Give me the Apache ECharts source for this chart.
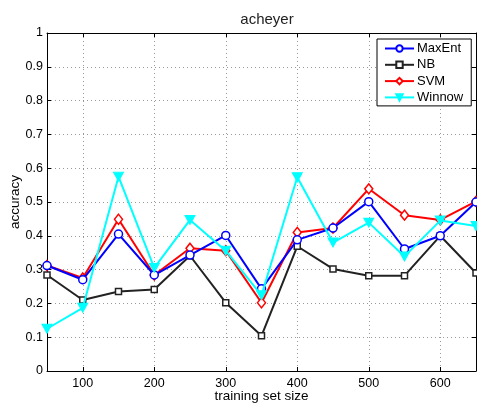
<!DOCTYPE html>
<html>
<head>
<meta charset="utf-8">
<script src="https://cdn.jsdelivr.net/npm/echarts@6/dist/echarts.min.js"></script>
<style>
  html, body { margin: 0; padding: 0; background: #fff; }
  #chart { width: 477px; height: 407px; }
</style>
</head>
<body>
<div id="chart"></div>
<script>
// Training set sizes (x) and accuracy of each classifier
const sizes = [50, 100, 150, 200, 250, 300, 350, 400, 450, 500, 550, 600, 650];
const maxEnt = [0.312, 0.270, 0.405, 0.284, 0.343, 0.401, 0.243, 0.388, 0.423, 0.501, 0.361, 0.400, 0.500];
const nb     = [0.284, 0.210, 0.235, 0.241, 0.341, 0.202, 0.104, 0.369, 0.302, 0.282, 0.282, 0.400, 0.290];
const svm    = [0.312, 0.275, 0.449, 0.284, 0.363, 0.356, 0.202, 0.410, 0.423, 0.539, 0.461, 0.447, 0.502];
const winnow = [0.125, 0.187, 0.575, 0.305, 0.447, 0.356, 0.224, 0.573, 0.380, 0.439, 0.339, 0.445, 0.429];
const xTicks = [100, 200, 300, 400, 500, 600];

const FONT = 'Liberation Sans, Arial, sans-serif';
const pairs = ys => sizes.map((x, i) => [x, ys[i]]);

const chart = echarts.init(document.getElementById('chart'), null, { renderer: 'canvas' });

const dotted = { show: true, lineStyle: { color: '#9a9a9a', type: [1, 3], width: 1 } };
const frameLine = { show: true, onZero: false, lineStyle: { color: '#000', width: 1 } };
const innerTick = { show: true, inside: true, length: 4, lineStyle: { color: '#000' } };

chart.setOption({
  animation: false,
  backgroundColor: '#fff',
  textStyle: { fontFamily: FONT },
  title: {
    text: 'acheyer',
    left: 262, top: 7, textAlign: 'center',
    textStyle: { fontFamily: FONT, fontSize: 15, fontWeight: 'normal', color: '#222' }
  },
  grid: {
    left: 47, right: 1, top: 33, bottom: 36,
    containLabel: false, outerBoundsMode: 'none'
  },
  legend: {
    orient: 'vertical',
    left: 377, top: 39,
    padding: [3, 8, 2, 7],
    itemGap: 3.3,
    itemWidth: 29, itemHeight: 8,
    backgroundColor: '#fff',
    borderColor: '#000', borderWidth: 1, borderRadius: 0,
    textStyle: { fontFamily: FONT, fontSize: 13, color: '#000', padding: [0, 0, 0, -2] },
    data: ['MaxEnt', 'NB', 'SVM', 'Winnow']
  },
  xAxis: [
    {
      type: 'value', min: 50, max: 650, position: 'bottom',
      name: 'training set size', nameLocation: 'middle', nameGap: 18, nameMoveOverlap: false,
      nameTextStyle: { fontFamily: FONT, fontSize: 13.5, color: '#000' },
      axisLine: frameLine,
      axisTick: Object.assign({ customValues: xTicks }, innerTick),
      axisLabel: { customValues: xTicks, fontFamily: FONT, fontSize: 12.5, color: '#000', margin: 6 },
      splitLine: dotted
    },
    {
      type: 'value', min: 50, max: 650, position: 'top',
      axisLine: frameLine,
      axisTick: Object.assign({ customValues: xTicks }, innerTick),
      axisLabel: { show: false, customValues: xTicks },
      splitLine: { show: false }
    }
  ],
  yAxis: [
    {
      type: 'value', min: 0, max: 1, interval: 0.1, position: 'left',
      name: 'accuracy', nameLocation: 'middle', nameGap: 25, nameMoveOverlap: false,
      nameTextStyle: { fontFamily: FONT, fontSize: 13.5, color: '#000' },
      axisLine: frameLine,
      axisTick: innerTick,
      axisLabel: {
        fontFamily: FONT, fontSize: 12.5, color: '#000', margin: 4,
        formatter: v => String(Math.round(v * 10) / 10)
      },
      splitLine: dotted
    },
    {
      type: 'value', min: 0, max: 1, interval: 0.1, position: 'right',
      axisLine: frameLine,
      axisTick: innerTick,
      axisLabel: { show: false },
      splitLine: { show: false }
    }
  ],
  series: [
    {
      name: 'MaxEnt', type: 'line', data: pairs(maxEnt), z: 4,
      symbol: 'circle', symbolSize: 8, showAllSymbol: true,
      lineStyle: { color: '#0000ff', width: 2 },
      itemStyle: { color: '#fff', borderColor: '#0000ff', borderWidth: 1.5 }
    },
    {
      name: 'NB', type: 'line', data: pairs(nb), z: 2,
      symbol: 'rect', symbolSize: 6, showAllSymbol: true,
      lineStyle: { color: '#222222', width: 2 },
      itemStyle: { color: '#fff', borderColor: '#222222', borderWidth: 1.5 }
    },
    {
      name: 'SVM', type: 'line', data: pairs(svm), z: 3,
      symbol: 'diamond', symbolSize: [8, 10], showAllSymbol: true,
      lineStyle: { color: '#ff0000', width: 2 },
      itemStyle: { color: '#fff', borderColor: '#ff0000', borderWidth: 1.5 }
    },
    {
      name: 'Winnow', type: 'line', data: pairs(winnow), z: 5,
      symbol: 'triangle', symbolRotate: 180, symbolSize: [10, 9], showAllSymbol: true,
      lineStyle: { color: '#00ffff', width: 2 },
      itemStyle: { color: '#00ffff', borderColor: '#00ffff', borderWidth: 1 }
    }
  ]
});
</script>
</body>
</html>
